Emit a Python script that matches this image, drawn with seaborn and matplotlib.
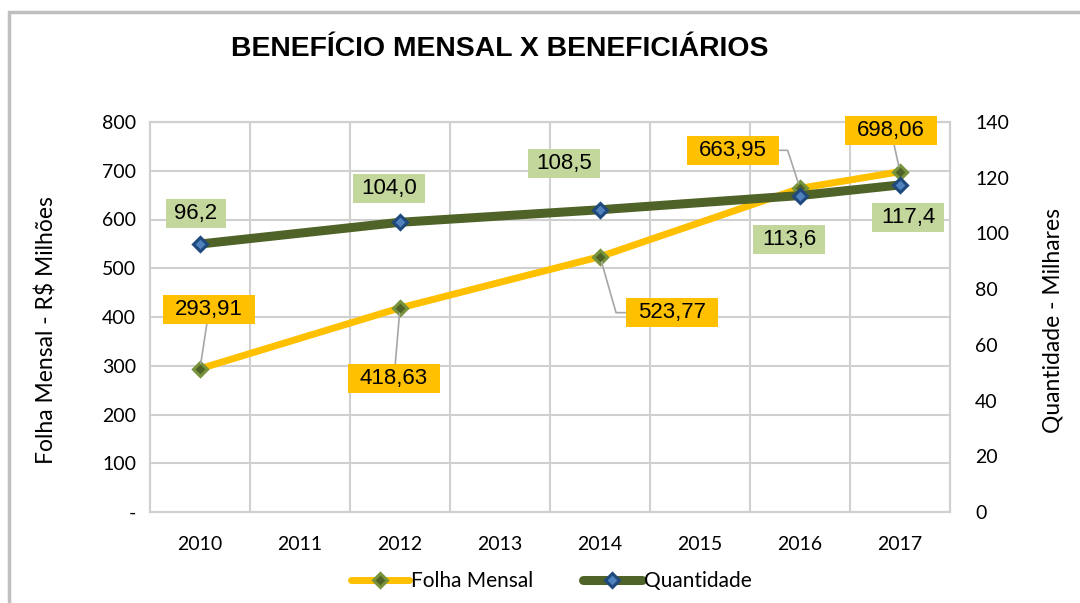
import matplotlib
matplotlib.use("Agg")
import matplotlib.pyplot as plt
import pandas as pd
import seaborn as sns
from matplotlib.lines import Line2D
from matplotlib.patches import Rectangle
from matplotlib.path import Path

# data
years = [2010, 2012, 2014, 2016, 2017]
folha_mensal = [293.91, 418.63, 523.77, 663.95, 698.06]
quantidade = [96.2, 104.0, 108.5, 113.6, 117.4]
folha_labels = ["293,91", "418,63", "523,77", "663,95", "698,06"]
quantidade_labels = ["96,2", "104,0", "108,5", "113,6", "117,4"]
category_years = [2010, 2011, 2012, 2013, 2014, 2015, 2016, 2017]
left_ticks = [0, 100, 200, 300, 400, 500, 600, 700, 800]
left_tick_labels = ["-", "100", "200", "300", "400", "500", "600", "700", "800"]
right_ticks = [0, 20, 40, 60, 80, 100, 120, 140]

# label placement (pixel offsets from each point) and leader line shapes
folha_offsets = [(9, 59), (-6, -71), (72, -56), (-67, 38), (-9, 41)]
folha_leaders = ["arc3", "arc3", "angle,angleA=0,angleB=106,rad=0",
                 "angle,angleA=0,angleB=108,rad=0", "arc3"]
quantidade_offsets = [(-4, 31), (-11, 34), (-36, 46), (-11, -44), (8, -33)]

YELLOW = "#FFC000"
OLIVE = "#4F6228"
LIGHT_GREEN = "#C3D69B"
GRID = "#D0D0D0"
TICK_FONT = "Lato"
LABEL_FONT = "Liberation Sans"


def excel_box(pad_x, pad_y):
    """Rectangular label box with separate horizontal / vertical padding."""
    def box(x0, y0, width, height, mutation_size):
        px = pad_x * mutation_size
        py = pad_y * mutation_size
        x0, y0 = x0 - px, y0 - py
        x1, y1 = x0 + width + 2 * px, y0 + height + 2 * py
        return Path([(x0, y0), (x1, y0), (x1, y1), (x0, y1), (x0, y0)], closed=True)
    return box


df = pd.DataFrame({"ano": years, "folha": folha_mensal, "quantidade": quantidade})

sns.set_style("white")
plt.rcParams["font.family"] = [TICK_FONT, "DejaVu Sans"]
plt.rcParams.update({"text.color": "black", "axes.labelcolor": "black",
                     "xtick.color": "black", "ytick.color": "black"})

fig = plt.figure(figsize=(10.8, 6.03), dpi=100)
ax = fig.add_axes([150 / 1080, 91 / 603, 800 / 1080, 390 / 603])
ax2 = ax.twinx()

sns.lineplot(data=df, x="ano", y="folha", ax=ax, color=YELLOW, lw=5,
             marker="D", ms=7.5, mfc="#4F6228", mec="#77933C", mew=2.2)
sns.lineplot(data=df, x="ano", y="quantidade", ax=ax2, color=OLIVE, lw=6.5,
             marker="D", ms=7.5, mfc="#4F81BD", mec="#1F497D", mew=2.2)

# axes ranges and ticks
ax.set_xlim(category_years[0] - 0.5, category_years[-1] + 0.5)
ax.set_ylim(left_ticks[0], left_ticks[-1])
ax2.set_ylim(right_ticks[0], right_ticks[-1])
ax.set_xticks(category_years)
ax.set_xticklabels([str(y) for y in category_years])
ax.set_xticks([y + 0.5 for y in category_years[:-1]], minor=True)
ax.set_yticks(left_ticks)
ax.set_yticklabels(left_tick_labels)
ax2.set_yticks(right_ticks)
ax2.set_yticklabels([str(v) for v in right_ticks])

ax.tick_params(axis="x", which="both", length=0, pad=17, labelsize=14)
ax.tick_params(axis="y", length=0, pad=10, labelsize=14)
ax2.tick_params(axis="y", length=0, pad=18, labelsize=14)

ax.grid(True, axis="y", which="major", color=GRID, lw=1.5)
ax.grid(True, axis="x", which="minor", color=GRID, lw=1.5)
ax.grid(False, axis="x", which="major")
ax.set_axisbelow(True)
for axis in (ax, ax2):
    for spine in axis.spines.values():
        spine.set_color(GRID)
        spine.set_linewidth(1.5)

ax.set_xlabel("")
ax.set_ylabel("Folha Mensal - R$ Milhões", fontsize=16.5)
ax2.set_ylabel("Quantidade - Milhares", fontsize=16.5, rotation=90)
ax.yaxis.set_label_coords(-0.116, 0.467)
ax2.yaxis.set_label_coords(1.116, 0.492)

# data labels (all drawn on the top axes so the frame never covers them)
for year, value, text, offset, leader in zip(years, folha_mensal, folha_labels,
                                             folha_offsets, folha_leaders):
    ax2.annotate(text, xy=(year, value), xycoords=ax.transData,
                 xytext=offset, textcoords="offset pixels",
                 ha="center", va="center", fontsize=16, family=LABEL_FONT,
                 bbox=dict(boxstyle=excel_box(0.54, 0.18), fc=YELLOW, ec="none"),
                 arrowprops=dict(arrowstyle="-", color="#A6A6A6", lw=1.2,
                                 connectionstyle=leader, shrinkA=0, shrinkB=4),
                 annotation_clip=False, zorder=5)

for year, value, text, offset in zip(years, quantidade, quantidade_labels,
                                     quantidade_offsets):
    ax2.annotate(text, xy=(year, value), xytext=offset, textcoords="offset pixels",
                 ha="center", va="center", fontsize=16, family=LABEL_FONT,
                 bbox=dict(boxstyle=excel_box(0.38, 0.18), fc=LIGHT_GREEN, ec="none"),
                 annotation_clip=False, zorder=5)

# title
fig.text(500 / 1080, 1 - 49 / 603, "BENEFÍCIO MENSAL X BENEFICIÁRIOS",
         ha="center", va="center", fontsize=20.4, fontweight="bold",
         family=LABEL_FONT)

# legend
handles = [
    Line2D([], [], color=YELLOW, lw=5, marker="D", ms=7.5, mfc="#4F6228",
           mec="#77933C", mew=2.2),
    Line2D([], [], color=OLIVE, lw=6.5, marker="D", ms=7.5, mfc="#4F81BD",
           mec="#1F497D", mew=2.2),
]
fig.legend(handles, ["Folha Mensal", "Quantidade"], loc="center",
           bbox_to_anchor=(551 / 1080, 22 / 603), ncol=2, frameon=False,
           fontsize=15, handlelength=2.8, handletextpad=0.1, columnspacing=2.4)

# outer chart frame (only top and left edges are inside the picture)
fig.patches.append(Rectangle((8.5 / 1080, -0.5), 2, 1.5 - 11.5 / 603,
                             transform=fig.transFigure, fill=False,
                             ec="#BFBFBF", lw=2.5))

fig.savefig("out.png", dpi=100)
